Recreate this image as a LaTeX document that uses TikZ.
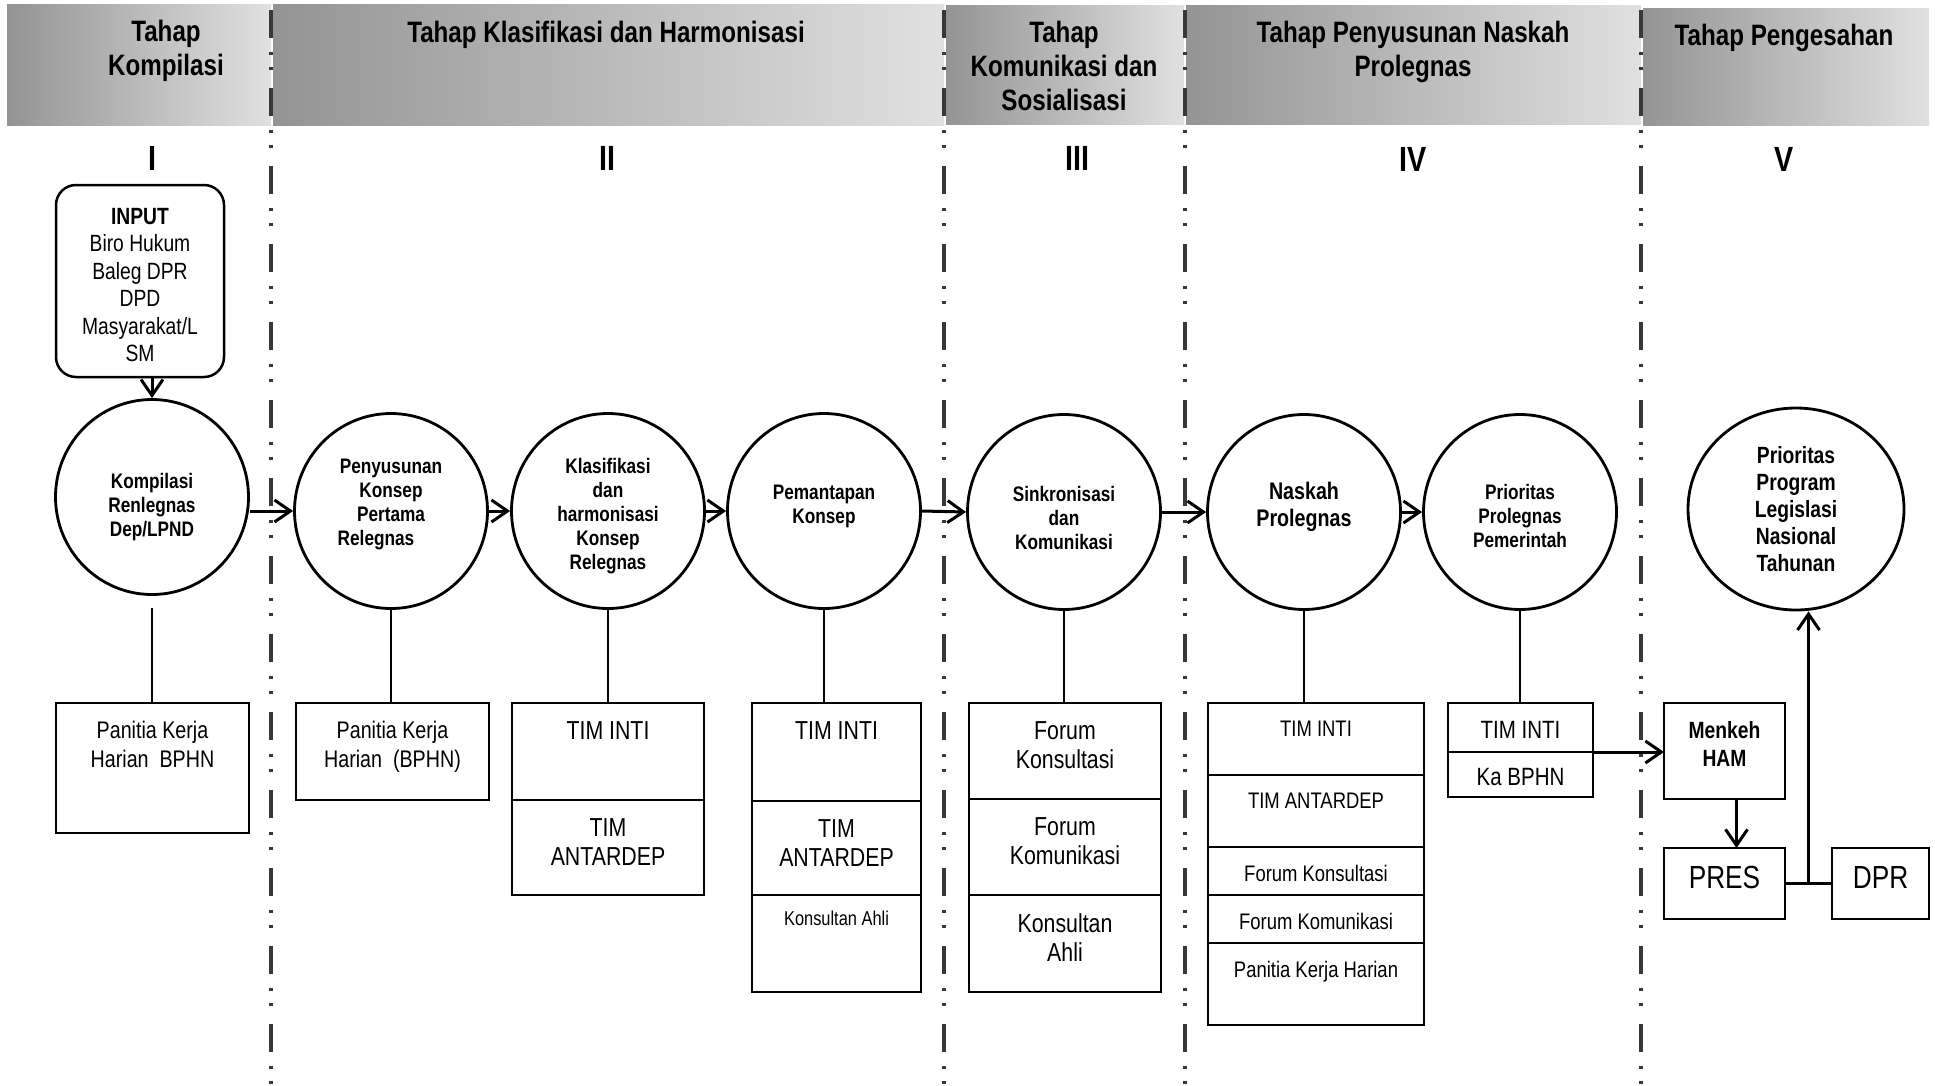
\documentclass[tikz,border=0pt]{standalone}
\usepackage{fontspec}
\setmainfont{Liberation Sans}[FakeStretch=0.82]
\usetikzlibrary{shapes.geometric,arrows.meta,calc}

\begin{document}
\begin{tikzpicture}[x=1pt,y=-1pt,
  font=\fontsize{24}{28.5}\selectfont,
  band/.style={left color=black!42,right color=black!12},
  head/.style={align=center,font=\fontsize{29.5}{34}\selectfont\bfseries},
  roman/.style={font=\fontsize{35}{40}\selectfont\bfseries},
  sep/.style={draw=black!78,line width=4pt,dash pattern=on 28pt off 14pt on 3pt off 12pt on 3pt off 18pt,dash phase=68pt},
  stage/.style={draw,ellipse,line width=2.8pt,inner sep=0pt,minimum width=193pt,minimum height=195pt},
  txt/.style={align=center,inner sep=0pt,font=\fontsize{21}{24}\selectfont\bfseries},
  cell/.style 2 args={draw,line width=2.5pt,anchor=north west,inner sep=0pt,outer sep=0pt,minimum width=#1pt,minimum height=#2pt},
  lab/.style={anchor=north,inner sep=0pt,yshift=-18pt,align=center},
  big/.style={font=\fontsize{26}{29}\selectfont},
  mid/.style={font=\fontsize{22.5}{26}\selectfont},
  arr/.style={-{Straight Barb[length=16pt,width=22pt]},line width=3pt},
  link/.style={line width=2pt}]
\useasboundingbox (0,0) rectangle (1935,1085);

\shade[band] (7,4) rectangle (271,125);
\shade[band] (273,4) rectangle (944,125);
\shade[band] (946,5) rectangle (1184,124);
\shade[band] (1186,5) rectangle (1641,124);
\shade[band] (1643,8) rectangle (1929,125);

\draw[sep] (271,0) -- (271,1085);
\draw[sep] (944,0) -- (944,1085);
\draw[sep] (1185,0) -- (1185,1085);
\draw[sep] (1641,0) -- (1641,1085);

\node[head] (h1) at (166,51) {Tahap\\Kompilasi};
\node[head] (h2) at (606,35) {Tahap Klasifikasi dan Harmonisasi};
\node[head] (h3) at (1064,66) {Tahap\\Komunikasi dan\\Sosialisasi};
\node[head] (h4) at (1413,52) {Tahap Penyusunan Naskah\\Prolegnas};
\node[head] (h5) at (1784,38) {Tahap Pengesahan};

\node[roman] (r1) at (152,158) {I};
\node[roman] (r2) at (607,158) {II};
\node[roman] (r3) at (1077,158) {III};
\node[roman] (r4) at (1413,159) {IV};
\node[roman] (r5) at (1784,159) {V};

\node[draw,line width=2.5pt,rounded corners=20pt,minimum width=168pt,minimum height=192pt,
  label={[align=center,inner sep=0pt,yshift=-4pt,font=\fontsize{23.5}{27.5}\selectfont]center:\textbf{INPUT}\\Biro Hukum\\Baleg DPR\\DPD\\Masyarakat/L\\SM}] (inp) at (140,281) {};

\node[stage,label={[txt,yshift=-10pt]center:Kompilasi\\Renlegnas\\Dep/LPND}] (c1) at (152,497) {};
\node[stage,label={[txt,yshift=7pt]center:Penyusunan\\Konsep\\Pertama\\Relegnas\hspace*{30pt}}] (c2) at (391,511) {};
\node[stage,label={[txt,yshift=-5pt]center:Klasifikasi\\dan\\harmonisasi\\Konsep\\Relegnas}] (c3) at (608,511) {};
\node[stage,label={[txt,yshift=5pt]center:Pemantapan\\Konsep}] (c4) at (824,511) {};
\node[stage,label={[txt,yshift=-6pt]center:Sinkronisasi\\dan\\Komunikasi}] (c5) at (1064,512) {};
\node[stage,label={[txt,yshift=5pt,font=\fontsize{24}{27}\selectfont\bfseries]center:Naskah\\Prolegnas}] (c6) at (1304,512) {};
\node[stage,label={[txt,yshift=-4pt]center:Prioritas\\Prolegnas\\Pemerintah}] (c7) at (1520,512) {};
\node[stage,minimum width=216pt,minimum height=202pt,label={[txt,font=\fontsize{23.5}{27}\selectfont\bfseries]center:Prioritas\\Program\\Legislasi\\Nasional\\Tahunan}] (c8) at (1796,509) {};

\node[cell={193}{130},label={[lab]north:Panitia Kerja\\Harian~~BPHN}] (b1) at (56,703) {};
\node[cell={193}{97},label={[lab]north:Panitia Kerja\\Harian~~(BPHN)}] (b2) at (296,703) {};
\node[cell={192}{97},label={[lab,big]north:TIM INTI}] (b3a) at (512,703) {};
\node[cell={192}{95},label={[lab,big]north:TIM\\ANTARDEP}] (b3b) at (512,800) {};
\node[cell={169}{98},label={[lab,big]north:TIM INTI}] (b4a) at (752,703) {};
\node[cell={169}{94},label={[lab,big]north:TIM\\ANTARDEP}] (b4b) at (752,801) {};
\node[cell={169}{97},label={[lab,yshift=2pt,font=\fontsize{20}{24}\selectfont]north:Konsultan Ahli}] (b4c) at (752,895) {};
\node[cell={192}{96},label={[lab,big]north:Forum\\Konsultasi}] (b5a) at (969,703) {};
\node[cell={192}{96},label={[lab,big]north:Forum\\Komunikasi}] (b5b) at (969,799) {};
\node[cell={192}{97},label={[lab,big]north:Konsultan\\Ahli}] (b5c) at (969,895) {};
\node[cell={216}{72},label={[lab,mid]north:TIM INTI}] (b6a) at (1208,703) {};
\node[cell={216}{72},label={[lab,mid]north:TIM ANTARDEP}] (b6b) at (1208,775) {};
\node[cell={216}{48},label={[lab,mid]north:Forum Konsultasi}] (b6c) at (1208,847) {};
\node[cell={216}{48},label={[lab,mid]north:Forum Komunikasi}] (b6d) at (1208,895) {};
\node[cell={216}{82},label={[lab,mid]north:Panitia Kerja Harian}] (b6e) at (1208,943) {};
\node[cell={145}{49},label={[lab,font=\fontsize{25}{28}\selectfont]north:TIM INTI}] (b7a) at (1448,703) {};
\node[cell={145}{45},label={[lab,yshift=2pt,font=\fontsize{25}{28}\selectfont]north:Ka BPHN}] (b7b) at (1448,752) {};
\node[cell={121}{96},label={[lab,font=\fontsize{23.5}{28}\selectfont\bfseries]north:Menkeh\\HAM}] (menkeh) at (1664,703) {};
\node[cell={121}{71},label={[lab,font=\fontsize{32}{36}\selectfont]north:PRES}] (pres) at (1664,848) {};
\node[cell={97}{71},label={[lab,font=\fontsize{32}{36}\selectfont]north:DPR}] (dpr) at (1832,848) {};

\draw[arr] (inp.south -| c1.north) -- (c1.north);
\draw[arr] (c1.east |- c2.west) -- (c2.west);
\draw[arr] (c2.east) -- (c3.west);
\draw[arr] (c3.east) -- (c4.west);
\draw[arr] (c4.east) -- (c5.west);
\draw[arr] (c5.east) -- (c6.west);
\draw[arr] (c6.east) -- (c7.west);

\draw[link] ([yshift=-12pt]c1.south) -- (c1.south |- b1.north);
\draw[link] (c2.south) -- (c2.south |- b2.north);
\draw[link] (c3.south) -- (c3.south |- b3a.north);
\draw[link] (c4.south) -- (c4.south |- b4a.north);
\draw[link] (c5.south) -- (c5.south |- b5a.north);
\draw[link] (c6.south) -- (c6.south |- b6a.north);
\draw[link] (c7.south) -- (c7.south |- b7a.north);

\draw[arr] (b7a.south east) -- (b7a.south east -| menkeh.west);
\draw[arr] ([xshift=12pt]menkeh.south) -- ([xshift=12pt]pres.north);
\draw[line width=3pt] (pres.east) -- (dpr.west);
\coordinate (j) at ($(pres.east)!.5!(dpr.west)$);
\draw[arr] (j) -- (j |- c8.south);
\end{tikzpicture}
\end{document}
